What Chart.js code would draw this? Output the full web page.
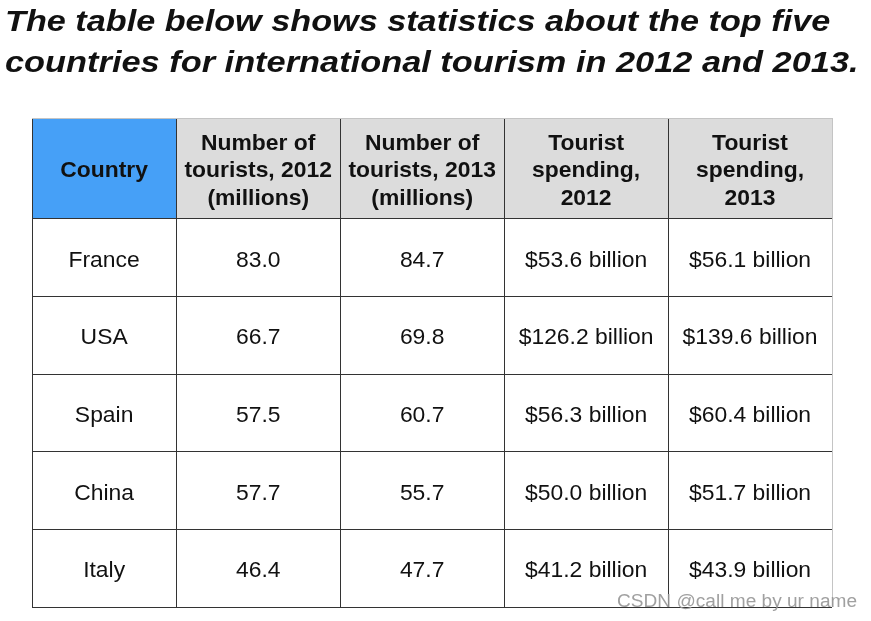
<!DOCTYPE html>
<html>
<head>
<meta charset="utf-8">
<script src="https://cdn.jsdelivr.net/npm/chart.js@4.4.0/dist/chart.umd.min.js"></script>
<style>
  html, body { margin: 0; padding: 0; background: #fff; }
  #wrap { width: 871px; height: 621px; }
</style>
</head>
<body>
<div id="wrap"><canvas id="table-chart"></canvas></div>
<script>
var titleLines = [
  'The table below shows statistics about the top five',
  'countries for international tourism in 2012 and 2013.'
];
var headers = [
  ['Country'],
  ['Number of', 'tourists, 2012', '(millions)'],
  ['Number of', 'tourists, 2013', '(millions)'],
  ['Tourist', 'spending,', '2012'],
  ['Tourist', 'spending,', '2013']
];
var countries = ['France', 'USA', 'Spain', 'China', 'Italy'];
var tourists2012 = [83.0, 66.7, 57.5, 57.7, 46.4];
var tourists2013 = [84.7, 69.8, 60.7, 55.7, 47.7];
var spending2012 = [53.6, 126.2, 56.3, 50.0, 41.2];
var spending2013 = [56.1, 139.6, 60.4, 51.7, 43.9];
var watermark = 'CSDN @call me by ur name';

function num(v) { return v.toFixed(1); }
function money(v) { return '$' + v.toFixed(1) + ' billion'; }

var columns = [
  countries,
  tourists2012.map(num),
  tourists2013.map(num),
  spending2012.map(money),
  spending2013.map(money)
];

// column edges on the x scale (first column is narrower), header row sits above 0 on y
var X_MIN = 0.12, X_MAX = 5, Y_TOP = -1.3, Y_BOTTOM = 5;
function colCenter(c) { return c === 0 ? (X_MIN + 1) / 2 : c + 0.5; }

var datasets = columns.map(function (col, c) {
  return {
    label: headers[c].join(' '),
    header: headers[c],
    cells: col,
    data: [{ x: colCenter(c), y: Y_TOP / 2 }].concat(col.map(function (v, r) {
      return { x: colCenter(c), y: r + 0.5 };
    })),
    pointRadius: 0,
    pointHoverRadius: 0,
    showLine: false
  };
});

function drawText(ctx, txt, x, y, sx) {
  ctx.save();
  ctx.translate(x, y);
  ctx.scale(sx, 1);
  ctx.fillText(txt, 0, 0);
  ctx.restore();
}

var tablePlugin = {
  id: 'tableCells',
  beforeDraw: function (chart) {
    var ctx = chart.ctx, xs = chart.scales.x, ys = chart.scales.y;
    var top = ys.getPixelForValue(Y_TOP), bottom = ys.getPixelForValue(0);
    ctx.save();
    for (var c = 0; c < columns.length; c++) {
      var l = xs.getPixelForValue(c === 0 ? X_MIN : c);
      var r = xs.getPixelForValue(c + 1);
      ctx.fillStyle = c === 0 ? '#46a0f7' : '#dcdcdc';
      ctx.fillRect(l, top, r - l, bottom - top);
    }
    ctx.restore();
  },
  afterDraw: function (chart) {
    var ctx = chart.ctx;
    ctx.save();
    ctx.fillStyle = '#111';
    ctx.font = 'italic bold 29px "Liberation Sans", Arial, sans-serif';
    ctx.textAlign = 'left';
    ctx.textBaseline = 'alphabetic';
    drawText(ctx, titleLines[0], 5, 31, 1.18);
    drawText(ctx, titleLines[1], 5, 72, 1.185);

    ctx.textAlign = 'center';
    ctx.textBaseline = 'middle';
    chart.data.datasets.forEach(function (ds, i) {
      var pts = chart.getDatasetMeta(i).data;
      ctx.font = 'bold 22px "Liberation Sans", Arial, sans-serif';
      var lines = ds.header, lh = 27.5;
      lines.forEach(function (t, k) {
        drawText(ctx, t, pts[0].x, pts[0].y + (k - (lines.length - 1) / 2) * lh + 2.5, 1.04);
      });
      ctx.font = '22px "Liberation Sans", Arial, sans-serif';
      ds.cells.forEach(function (t, r) {
        drawText(ctx, t, pts[r + 1].x, pts[r + 1].y + 3, 1.04);
      });
    });

    ctx.font = '18px "Liberation Sans", Arial, sans-serif';
    ctx.fillStyle = 'rgba(150,150,150,0.9)';
    ctx.textAlign = 'right';
    ctx.textBaseline = 'alphabetic';
    drawText(ctx, watermark, 857, 607, 1.06);
    ctx.restore();
  }
};

var ctx = document.getElementById('table-chart');
var myChart = new Chart(ctx, {
  type: 'scatter',
  data: { datasets: datasets },
  plugins: [tablePlugin],
  options: {
    responsive: true,
    maintainAspectRatio: false,
    animation: false,
    events: [],
    layout: { padding: { top: 118, left: 32, right: 39, bottom: 14 } },
    plugins: { legend: { display: false }, tooltip: { enabled: false } },
    scales: {
      x: {
        type: 'linear',
        min: X_MIN,
        max: X_MAX,
        afterBuildTicks: function (scale) {
          scale.ticks = [X_MIN, 1, 2, 3, 4, 5].map(function (v) { return { value: v }; });
        },
        ticks: { display: false },
        border: { display: false },
        grid: {
          drawTicks: false,
          lineWidth: 1,
          color: function (c) { return c.index === 5 ? '#c4c4c4' : '#333'; }
        }
      },
      y: {
        type: 'linear',
        reverse: true,
        min: Y_TOP,
        max: Y_BOTTOM,
        afterBuildTicks: function (scale) {
          scale.ticks = [Y_TOP, 0, 1, 2, 3, 4, 5].map(function (v) { return { value: v }; });
        },
        ticks: { display: false },
        border: { display: false },
        grid: {
          drawTicks: false,
          lineWidth: 1,
          color: function (c) { return c.index === 0 ? '#c4c4c4' : '#333'; }
        }
      }
    }
  }
});
</script>
</body>
</html>
